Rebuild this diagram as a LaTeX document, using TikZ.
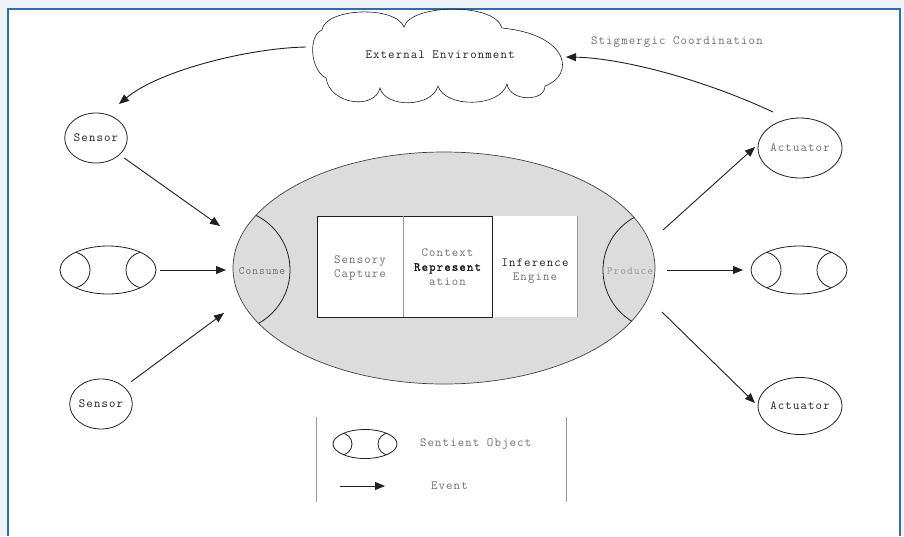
\documentclass[tikz,border=0pt]{standalone}
\usepackage{fontspec}
\setmonofont{Latin Modern Mono}[LetterSpace=9]
\newfontfamily\monobold{Latin Modern Mono}[LetterSpace=9, FakeBold=1.6]
\usetikzlibrary{shapes.geometric,arrows.meta}

\definecolor{pagebg}{HTML}{EEF3FA}
\definecolor{framecol}{HTML}{2F6EA6}
\definecolor{core}{HTML}{DCDCDC}
\definecolor{lbl}{HTML}{6E6E6E}
\definecolor{faint}{HTML}{9A9A9A}
\definecolor{ink}{HTML}{202020}

\begin{document}
\begin{tikzpicture}[x=1pt,y=-1pt,
  every node/.style={font=\ttfamily\fontsize{12.5}{14.5}\selectfont, text=ink, inner sep=0pt, outer sep=0pt},
  outline/.style={draw=ink, line width=0.8pt},
  event/.style={draw=ink, line width=0.9pt, -{Triangle[length=10pt,width=8pt]}},
  agent/.style={ellipse, outline, minimum width=#1},
  sentient/.style={ellipse, outline, minimum width=96pt, minimum height=48pt,
    path picture={\begin{scope}[shift={(path picture bounding box.center)}]
      \draw[ink, line width=0.8pt] (-36,0) circle [radius=18];
      \draw[ink, line width=0.8pt] (36,0) circle [radius=18];
    \end{scope}}},
  sentientkey/.style={ellipse, outline, minimum width=64pt, minimum height=29pt,
    path picture={\begin{scope}[shift={(path picture bounding box.center)}]
      \draw[ink, line width=0.8pt] (-24,0) circle [radius=11];
      \draw[ink, line width=0.8pt] (24,0) circle [radius=11];
    \end{scope}}},
  stage/.style={fill=white, minimum width=#1, minimum height=101pt},
]
\useasboundingbox (0,0) rectangle (904,536);

% page and frame
\fill[pagebg] (0,0) rectangle (904,536);
\fill[white] (8,9) rectangle (900,536);
\draw[framecol, line width=1.8pt] (8,536) -- (8,9) -- (900,9) -- (900,536);

% environment cloud
\draw[ink, line width=0.6pt]
  (322,30) .. controls (325,8) and (395,5) .. (404,27)
  .. controls (410,4) and (495,2) .. (502,28)
  .. controls (570,35) and (575,75) .. (545,86)
  .. controls (545,102) and (510,102) .. (507,84)
  .. controls (500,108) and (445,108) .. (438,86)
  .. controls (432,108) and (385,108) .. (380,88)
  .. controls (375,110) and (330,105) .. (326,78)
  .. controls (310,70) and (308,35) .. (322,30);
\node (env) at (440,55) {External Environment};
\node[text=lbl, anchor=west] (stig) at (591,42) {Stigmergic Coordination};

% sensors and actuators
\node[agent=60pt, minimum height=50pt] (sensorA) at (96,138) {Sensor};
\node[sentient] (objL) at (108,270) {};
\node[agent=60pt, minimum height=50pt] (sensorB) at (101,404) {Sensor};
\node[agent=66pt, minimum height=60pt, text=lbl] (actA) at (800,148) {Actuator};
\node[sentient] (objR) at (799,270) {};
\node[agent=66pt, minimum height=57pt] (actB) at (800,406) {Actuator};

% sentient object core
\node[ellipse, fill=core, draw=ink!85, line width=0.7pt,
      minimum width=422pt, minimum height=232pt] (core) at (444,268) {};
\begin{scope}
  \clip (444,268) ellipse [x radius=211, y radius=116];
  \draw[ink, line width=0.8pt] (229,270) circle [radius=61];
  \draw[ink, line width=0.8pt] (663,270) circle [radius=60];
\end{scope}
\node[text=lbl, font=\ttfamily\fontsize{11.2}{13}\selectfont] (consume) at (262,271) {Consume};
\node[text=faint, font=\ttfamily\fontsize{11}{13}\selectfont] (produce) at (630,271) {Produce};

% processing stages
\node[stage=86pt] (capture) at (360,266.5) {};
\node[stage=89pt] (context) at (447.5,266.5) {};
\node[stage=85pt] (infer) at (534.5,266.5) {};
\draw[ink, line width=1pt] (context.north east) -- (capture.north west) -- (capture.south west) -- (context.south east) -- cycle;
\draw[faint, line width=1pt] (capture.north east) -- (capture.south east);
\draw[faint, line width=1pt] (infer.north east) -- (infer.south east);
\node[text=lbl, align=center] (capturetext) at (360,268) {Sensory\\Capture};
\node[align=center] (contexttext) at (447.5,267) {{\color{lbl}Context}\\{\monobold Represent}\\{\color{lbl}ation}};
\node[align=center] (infertext) at (535,271) {Inference\\{\color{lbl}Engine}};

% connector end points
\coordinate (envOut) at (306,47);
\coordinate (sensorAIn) at (119,104);
\coordinate (actAOut) at (773,112);
\coordinate (envIn) at (566,57);
\coordinate (tipA) at (220,226);
\coordinate (tipL) at (226,270);
\coordinate (tipB) at (224,313);
\coordinate (outA) at (663,230);
\coordinate (outM) at (667,270);
\coordinate (outB) at (662,312);
\coordinate (tipRA) at (755,147);
\coordinate (tipRM) at (743,270);
\coordinate (tipRB) at (755,403);

% events
\draw[event] (envOut) .. controls (250,48) and (160,70) .. (sensorAIn);
\draw[event] (actAOut) .. controls (700,78) and (620,58) .. (envIn);
\draw[event, shorten <=6pt] (sensorA) -- (tipA);
\draw[event, shorten <=4pt] (objL) -- (tipL);
\draw[event, shorten <=9pt] (sensorB) -- (tipB);
\draw[event] (outA) -- (tipRA);
\draw[event] (outM) -- (tipRM);
\draw[event] (outB) -- (tipRB);

% key
\coordinate (keyTL) at (316,417);
\coordinate (keyBL) at (316,502);
\coordinate (keyTR) at (566,417);
\coordinate (keyBR) at (566,502);
\draw[faint, line width=0.8pt] (keyTL) -- (keyBL);
\draw[faint, line width=0.8pt] (keyTR) -- (keyBR);
\node[sentientkey] (keyobj) at (365,444) {};
\node[text=lbl, anchor=west] (keyobjtext) at (420,444) {Sentient Object};
\coordinate (keyArrowA) at (340,486);
\coordinate (keyArrowB) at (385,486);
\draw[event] (keyArrowA) -- (keyArrowB);
\node[text=lbl, anchor=west] (keyevent) at (431,486) {Event};
\end{tikzpicture}
\end{document}
